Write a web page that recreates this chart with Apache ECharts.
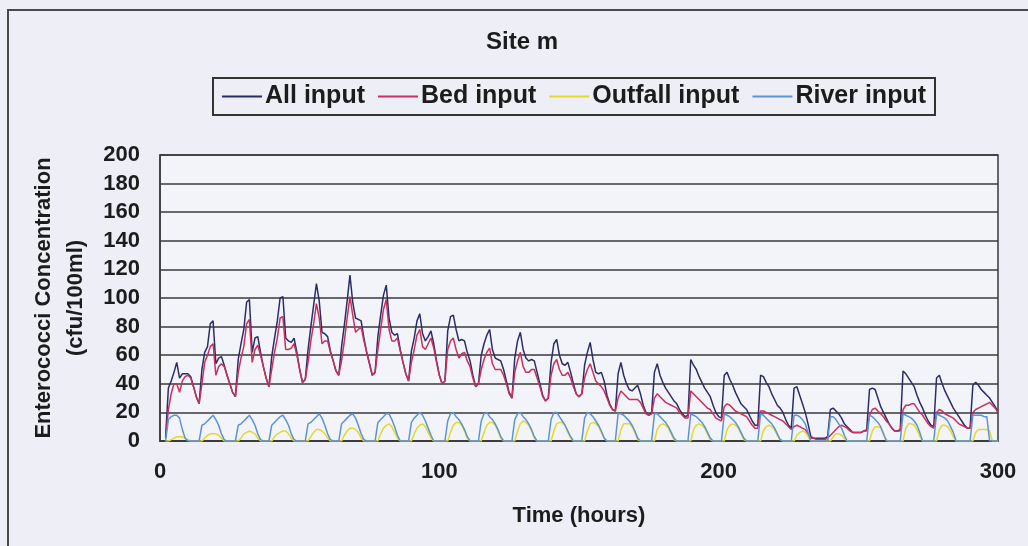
<!DOCTYPE html>
<html>
<head>
<meta charset="utf-8">
<title>Site m</title>
<script src="https://cdn.jsdelivr.net/npm/echarts@6/dist/echarts.min.js"></script>
<style>
  html, body { margin: 0; padding: 0; background: #eeeef7; }
  #chart { width: 1028px; height: 546px; }
</style>
</head>
<body>
<div id="chart"></div>
<script>
// Hourly model output, first value at hour 2, one value per hour up to hour 300.
const startHour = 2;

const allInput = [
  3,
  37,42,48,55,44,47,47,47,45,38,31,26,
  50,62,66,82,84,54,58,59,53,46,40,34,31,
  57,68,78,97,99,62,72,73,62,52,44,38,
  59,72,84,100,101,72,70,69,72,62,50,41,43,
  64,80,95,110,98,76,75,73,63,56,49,46,
  66,81,98,116,97,86,85,84,72,62,54,46,48,
  73,88,102,109,86,76,74,75,64,55,47,42,
  63,72,84,89,75,70,73,77,68,56,46,40,42,
  77,87,88,78,70,71,70,62,56,46,38,40,
  60,68,74,78,64,58,57,56,50,42,34,30,
  58,70,76,64,58,56,57,56,48,40,32,28,30,
  55,68,71,60,54,53,55,48,40,33,31,33,
  53,62,69,57,48,47,48,42,32,26,22,21,
  47,55,46,40,36,35,37,39,33,25,20,18,20,
  48,54,46,41,37,34,31,28,26,22,19,17,
  18,57,53,50,45,41,37,34,31,25,20,17,16,
  46,48,43,39,34,30,26,24,22,18,14,11,11,
  46,45,41,38,33,29,25,23,20,15,11,9,
  37,38,32,26,20,12,3,2,2,2,2,2,3,
  22,23,21,19,16,12,10,8,6,6,6,6,7,
  8,36,37,36,30,24,20,16,12,9,7,7,
  8,49,47,44,41,38,32,27,23,18,14,11,10,
  44,46,40,35,31,27,23,20,17,14,11,9,9,
  39,41,39,36,34,32,30,27,24,20
];

const bedInput = [
  2,
  22,33,40,40,34,42,45,46,44,38,31,26,
  40,55,60,66,68,46,52,54,52,46,40,34,31,
  48,58,66,82,85,55,64,67,60,52,44,38,
  50,62,72,86,87,64,64,65,68,60,50,41,43,
  55,70,82,96,86,68,70,70,62,56,49,46,
  56,70,86,101,88,76,78,80,70,62,54,46,48,
  64,78,92,99,78,70,70,72,63,55,47,42,
  55,64,74,78,66,64,68,72,65,55,46,40,42,
  64,70,72,64,58,61,62,56,52,44,38,40,
  50,57,62,65,54,50,50,50,46,40,33,30,
  48,56,62,52,48,48,50,50,44,38,31,28,30,
  46,54,57,50,46,46,48,44,38,33,31,33,
  44,50,54,48,42,40,38,35,30,25,22,21,
  30,35,33,31,29,29,29,29,27,23,19,18,19,
  30,33,31,29,27,26,25,24,23,20,18,16,
  16,35,33,31,29,27,25,23,22,19,16,15,14,
  24,26,25,23,21,20,19,18,17,14,11,9,9,
  21,21,20,19,18,17,16,15,14,12,10,8,
  10,11,10,9,8,5,2,2,1,1,1,1,2,
  4,6,8,10,11,10,9,7,6,6,6,6,7,
  7,18,22,23,21,19,17,14,12,9,7,7,
  7,22,25,25,26,26,23,20,18,15,12,10,9,
  20,22,21,19,18,17,16,14,12,11,10,9,9,
  20,22,23,24,25,26,27,25,23,20
];

const outfallInput = [
  0,
  0,1,2,3,3,3,2,1,0,0,0,0,
  0,2,4,5,5,5,4,2,0,0,0,0,0,
  0,2,5,6,7,6,5,2,0,0,0,0,
  0,3,5,6,7,7,5,2,0,0,0,0,0,
  0,3,6,8,8,7,5,2,0,0,0,0,
  0,4,7,9,9,8,6,2,0,0,0,0,0,
  0,5,9,11,12,10,6,2,0,0,0,0,
  0,5,9,11,12,10,6,2,0,0,0,0,0,
  0,6,11,13,13,11,7,2,0,0,0,0,
  0,6,11,13,13,11,7,2,0,0,0,0,
  0,7,12,14,13,11,7,2,0,0,0,0,0,
  0,7,12,13,13,11,6,2,0,0,0,0,
  0,7,12,13,12,10,6,2,0,0,0,0,
  0,8,12,12,12,10,6,1,0,0,0,0,0,
  0,8,11,12,11,9,5,1,0,0,0,0,
  0,0,8,11,12,11,9,5,1,0,0,0,0,
  0,8,11,12,11,9,5,1,0,0,0,0,0,
  0,7,10,11,10,8,4,1,0,0,0,0,
  0,4,6,7,6,3,0,0,0,0,0,0,0,
  0,3,5,5,4,2,0,0,0,0,0,0,0,
  0,0,7,10,10,9,5,1,0,0,0,0,
  0,0,9,12,12,11,8,3,0,0,0,0,0,
  0,8,11,11,10,7,3,0,0,0,0,0,0,
  0,6,8,8,8,8,7,0,0,0
];

const riverInput = [
  0,
  15,17,18,18,16,8,2,0,0,0,0,0,
  11,12,14,16,18,15,11,5,1,0,0,0,0,
  11,12,14,16,18,15,11,5,1,0,0,0,
  11,13,15,17,18,15,11,5,1,0,0,0,0,
  12,13,15,17,19,16,11,5,1,0,0,0,
  12,14,16,18,19,16,11,5,1,0,0,0,0,
  13,15,17,19,19,15,10,4,0,0,0,0,
  13,16,18,20,18,14,9,4,0,0,0,0,0,
  14,19,20,17,15,12,8,3,0,0,0,0,
  14,19,20,17,15,12,8,3,0,0,0,0,
  15,19,20,17,15,12,8,3,0,0,0,0,0,
  15,20,20,17,14,11,7,3,0,0,0,0,
  16,20,19,17,14,11,7,2,0,0,0,0,
  19,19,18,16,14,11,7,2,0,0,0,0,0,
  19,19,17,15,13,10,6,2,0,0,0,0,
  0,19,18,17,15,13,10,6,2,0,0,0,0,
  19,18,17,15,13,10,6,2,0,0,0,0,0,
  19,18,16,14,12,9,5,1,0,0,0,0,
  18,18,17,15,12,6,0,0,0,0,0,0,0,
  17,17,15,12,9,4,0,0,0,0,0,0,0,
  0,18,17,15,13,10,5,0,0,0,0,0,
  0,19,18,17,16,14,11,6,0,0,0,0,0,
  19,18,17,16,14,10,6,0,0,0,0,0,0,
  18,18,18,18,17,17,0,0,0,0
];

const seriesNames = ['All input', 'Bed input', 'Outfall input', 'River input'];
const seriesColors = ['#2b2d66', '#c8305e', '#e4da2a', '#5c93d6'];
const seriesValues = [allInput, bedInput, outfallInput, riverInput];

const xRange = { min: 0, max: 300, step: 100 };
const yRange = { min: 0, max: 200, step: 20 };

const fontFamily = "'Liberation Sans', Arial, sans-serif";
const inkColor = '#1c1c1c';
const ruleColor = '#3a3a3a';

const toPoints = values => values.map((v, i) => [startHour + i, v]);

const chart = echarts.init(document.getElementById('chart'), null, { renderer: 'canvas' });

chart.setOption({
  backgroundColor: '#eeeef7',
  animation: false,
  textStyle: { fontFamily: fontFamily },
  graphic: [{
    type: 'rect',
    shape: { x: 8, y: 10, width: 1040, height: 560 },
    style: { fill: 'none', stroke: '#4a4a4a', lineWidth: 2 },
    silent: true,
    z: -1
  }],
  title: {
    text: 'Site m',
    left: 486,
    top: 30,
    padding: 0,
    textStyle: { fontFamily: fontFamily, fontSize: 24, fontWeight: 'bold', color: inkColor }
  },
  legend: {
    data: seriesNames,
    left: 213,
    top: 78,
    padding: [6, 9, 6, 9],
    itemGap: 13,
    itemWidth: 40,
    itemHeight: 2,
    icon: 'rect',
    borderColor: '#333',
    borderWidth: 2,
    textStyle: { fontFamily: fontFamily, fontSize: 25, fontWeight: 'bold', color: inkColor, padding: [0, 0, 0, -2] }
  },
  grid: {
    left: 160,
    right: 30,
    top: 155,
    bottom: 105,
    show: true,
    backgroundColor: '#f3f3fa',
    borderColor: ruleColor,
    borderWidth: 1.5
  },
  xAxis: {
    type: 'value',
    min: xRange.min,
    max: xRange.max,
    interval: xRange.step,
    name: 'Time (hours)',
    nameLocation: 'middle',
    nameGap: 64,
    nameTextStyle: { fontFamily: fontFamily, fontSize: 22, fontWeight: 'bold', color: inkColor },
    axisLine: { show: true, lineStyle: { color: ruleColor, width: 1.5 } },
    axisTick: { show: false },
    splitLine: { show: false },
    axisLabel: { margin: 20, fontFamily: fontFamily, fontSize: 22, fontWeight: 'bold', color: inkColor }
  },
  yAxis: {
    type: 'value',
    min: yRange.min,
    max: yRange.max,
    interval: yRange.step,
    name: 'Enterococci Concentration\n(cfu/100ml)',
    nameLocation: 'middle',
    nameRotate: 90,
    nameGap: 68,
    nameTextStyle: { fontFamily: fontFamily, fontSize: 22, fontWeight: 'bold', color: inkColor, lineHeight: 32 },
    axisLine: { show: true, lineStyle: { color: ruleColor, width: 1.5 } },
    axisTick: { show: false },
    splitLine: { show: true, lineStyle: { color: ruleColor, width: 1.5 } },
    axisLabel: { margin: 20, fontFamily: fontFamily, fontSize: 22, fontWeight: 'bold', color: inkColor }
  },
  series: seriesNames.map((name, k) => ({
    name: name,
    type: 'line',
    data: toPoints(seriesValues[k]),
    showSymbol: false,
    symbol: 'none',
    smooth: false,
    color: seriesColors[k],
    lineStyle: { color: seriesColors[k], width: 1.5 },
    emphasis: { disabled: true }
  }))
});
</script>
</body>
</html>
